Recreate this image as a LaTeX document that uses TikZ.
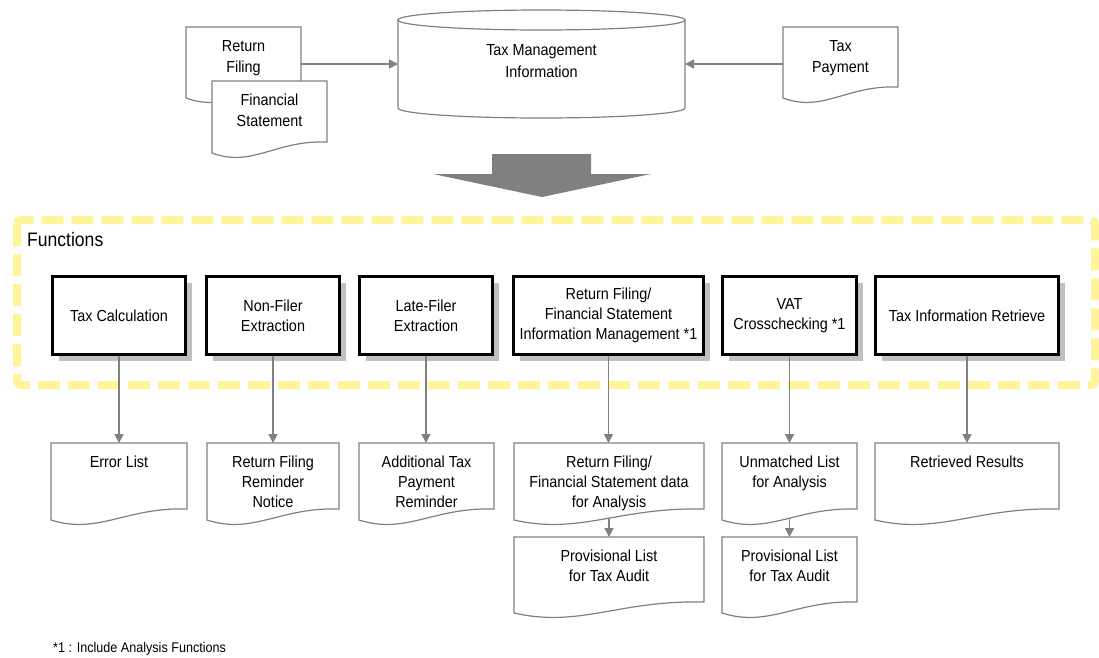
\documentclass[tikz,border=0pt]{standalone}
\usepackage{fontspec}
\setmainfont[FakeStretch=0.9]{Liberation Sans}
\usetikzlibrary{arrows.meta,shadows}
\definecolor{linegray}{RGB}{128,128,128}
\definecolor{shadowgray}{RGB}{192,192,192}
\definecolor{hiyellow}{RGB}{255,244,153}
\tikzset{
  docline/.style={draw=linegray, line width=1.2pt, fill=white},
  doctext/.style={align=center, inner sep=0pt, font=\fontsize{16}{20}\selectfont},
  docarea/.style={inner sep=0pt, outer sep=0pt, draw=none},
  funcbox/.style={draw=black, line width=3pt, fill=white, align=center, inner sep=0pt,
    minimum height=78pt, font=\fontsize{16}{20}\selectfont,
    drop shadow={shadow xshift=6pt, shadow yshift=-6pt, fill=shadowgray, opacity=1}},
  flow/.style={draw=linegray, line width=1.5pt, -{Triangle[length=9pt,width=9pt]}},
}
% document symbol: name, left, top, right, bottom (right end of wave), text
\newcommand\taxdoc[6]{%
  \pgfmathsetmacro\dw{#4-#2}%
  \pgfmathsetmacro\cax{#2+0.55*\dw}%
  \pgfmathsetmacro\cbx{#2+0.35*\dw}%
  \pgfmathsetmacro\cay{#5-2}%
  \pgfmathsetmacro\cby{#5+26}%
  \pgfmathsetmacro\ly{#5+11}%
  \pgfmathsetmacro\dh{#5-#3}%
  \draw[docline] (#2,#3) -- (#4,#3) -- (#4,#5)
     .. controls (\cax,\cay) and (\cbx,\cby) .. (#2,\ly) -- cycle;
  \node[docarea, minimum width=\dw pt, minimum height=\dh pt] (#1)
     at ({(#2+#4)/2},{(#3+#5)/2}) {};
  \node[doctext, anchor=north] (#1-t) at ({(#2+#4)/2},{#3+13}) {#6};
}
\begin{document}
\begin{tikzpicture}[x=1pt,y=-1pt]
\useasboundingbox (0,0) rectangle (1099,657);

% data store
\draw[docline] (398,20) -- (398,108)
   .. controls (398,113.52) and (462.25,118) .. (541.5,118)
   .. controls (620.75,118) and (685,113.52) .. (685,108) -- (685,20) -- cycle;
\draw[docline] (541.5,20) ellipse [x radius=143.5, y radius=10];
\node[docarea, minimum width=287pt, minimum height=108pt] (db) at (541.5,64) {};
\node[doctext, font=\fontsize{16}{22}\selectfont] (db-t) at (541.5,61) {Tax Management\\Information};

% input documents
\taxdoc{rf}{186}{27}{301}{87}{Return\\[1pt]Filing}
\taxdoc{fs}{212}{81}{327}{142}{Financial\\[1pt]Statement}
\taxdoc{tp}{783}{27}{898}{87}{Tax\\[1pt]Payment}

\draw[flow] (rf.east |- db) -- (db.west);
\draw[flow] (tp.west |- db) -- (db.east);

% block arrow
\fill[linegray] (492,154) -- (591,154) -- (591,174) -- (651,174) -- (542,197)
   -- (433,174) -- (492,174) -- cycle;

% functions frame
\draw[hiyellow, line width=8pt, dash pattern=on 22pt off 8pt, rounded corners=4pt]
   (17,220) rectangle (1095,385);
\node[anchor=base west, inner sep=0pt, font=\fontsize{19.5}{22}\selectfont] (fnlabel) at (27,246) {Functions};

% function boxes
\node[funcbox, minimum width=133pt] (f1) at (119,315.5) {Tax Calculation};
\node[funcbox, minimum width=133pt] (f2) at (273,315.5) {Non-Filer\\Extraction};
\node[funcbox, minimum width=133pt] (f3) at (426,315.5) {Late-Filer\\Extraction};
\node[funcbox, minimum width=190pt] (f4) at (608.5,315.5) {Return Filing/\\Financial Statement\\Information Management *1};
\node[funcbox, minimum width=134pt] (f5) at (789.5,315.5) {VAT\\Crosschecking *1};
\node[funcbox, minimum width=183pt] (f6) at (967,315.5) {Tax Information Retrieve};

% output documents
\taxdoc{d1}{51}{443}{187}{509}{Error List}
\taxdoc{d2}{207}{443}{339}{509}{Return Filing\\Reminder\\Notice}
\taxdoc{d3}{359}{443}{494}{509}{Additional Tax\\Payment\\Reminder}
\taxdoc{d4}{514}{443}{704}{509}{Return Filing/\\Financial Statement data\\for Analysis}
\taxdoc{d5}{722}{443}{857}{509}{Unmatched List\\for Analysis}
\taxdoc{d6}{875}{443}{1059}{509}{Retrieved Results}
\taxdoc{d4b}{514}{537}{704}{602}{Provisional List\\for Tax Audit}
\taxdoc{d5b}{722}{537}{857}{602}{Provisional List\\for Tax Audit}

\foreach \i in {1,...,6} {
  \draw[flow] (f\i.south) -- (f\i.south |- d\i.north);
}
\draw[flow] ([yshift=-10pt]d4.south) -- (d4b.north);
\draw[flow] ([yshift=-10pt]d5.south) -- (d5b.north);

\node[anchor=base west, inner sep=0pt, font=\fontsize{14}{16}\selectfont] (note) at (53,652) {*1 : Include Analysis Functions};
\end{tikzpicture}
\end{document}
